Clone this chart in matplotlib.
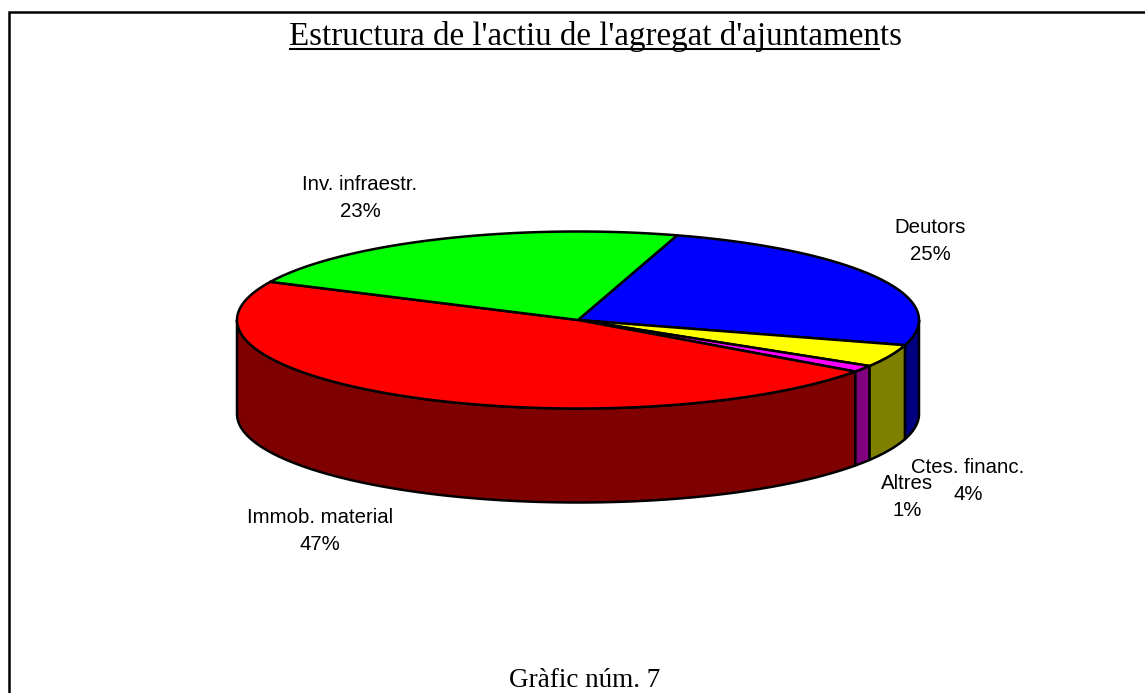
import numpy as np
import matplotlib
matplotlib.use('Agg')
import matplotlib.pyplot as plt

# pie data, clockwise from the green/blue edge
labels = ['Deutors', 'Ctes. financ.', 'Altres', 'Immob. material', 'Inv. infraestr.']
values = [24.9, 4.1, 1.2, 47.2, 22.6]
top_colors = ['#0000ff', '#ffff00', '#ff00ff', '#ff0000', '#00ff00']
side_colors = ['#000080', '#808000', '#800080', '#7f0000', '#008000']
label_pos = [(930, 241), (968, 481), (907, 497), (320, 531), (360, 198)]

title = "Estructura de l'actiu de l'agregat d'ajuntaments"
underlined = "Estructura de l'actiu de l'agregat d'ajuntamen"
caption = "Gràfic núm. 7"

# ellipse of the pie in pixels
cx, cy = 578, 320
rx, ry = 341, 88.5
depth = 94
start = 73.1


def rim(t1, t2, dy=0):
    t = np.radians(np.linspace(t1, t2, 200))
    return cx + rx * np.cos(t), cy - ry * np.sin(t) + dy


fig = plt.figure(figsize=(11.45, 6.93), dpi=100)
ax = fig.add_axes([0, 0, 1, 1])
ax.set_xlim(0, 1145)
ax.set_ylim(693, 0)
ax.axis('off')

# page frame, only left and top are in the picture
ax.plot([9, 9, 1145], [693, 12, 12], color='black', lw=1.8, solid_joinstyle='miter')

edges = start - np.cumsum([0] + values) * 3.6

# sides first, only the front half of the rim shows
for i in range(len(values)):
    a, b = edges[i], edges[i + 1]
    # front half is between 0 and -180
    a2, b2 = min(a, 0), max(b, -180)
    if a2 <= b2:
        continue
    x1, y1 = rim(a2, b2)
    x2, y2 = rim(b2, a2, depth)
    ax.fill(np.r_[x1, x2], np.r_[y1, y2], facecolor=side_colors[i], edgecolor='black',
            lw=1.8, joinstyle='round')

# top slices
for i in range(len(values)):
    x, y = rim(edges[i], edges[i + 1])
    ax.fill(np.r_[cx, x], np.r_[cy, y], facecolor=top_colors[i], edgecolor='black',
            lw=1.8, joinstyle='round')

for name, v, (lx, ly) in zip(labels, values, label_pos):
    ax.text(lx, ly, f'{name}\n{v:.0f}%', ha='center', va='center', fontsize=14.7,
            family='Liberation Sans', color='black', linespacing=1.55)

ax.text(289, 45, title, ha='left', va='baseline', fontsize=23.8, family='Liberation Serif')
ax.text(585, 687, caption, ha='center', va='baseline', fontsize=19.5, family='Liberation Serif')

# underline stops before the last letters
r = fig.canvas.get_renderer()
probe = ax.text(289, 45, underlined, ha='left', va='baseline', fontsize=23.8, family='Liberation Serif')
w = probe.get_window_extent(r).width
probe.remove()
ax.plot([289, 289 + w], [49, 49], color='black', lw=1.5, solid_capstyle='butt')

fig.savefig('out.png', dpi=100)
